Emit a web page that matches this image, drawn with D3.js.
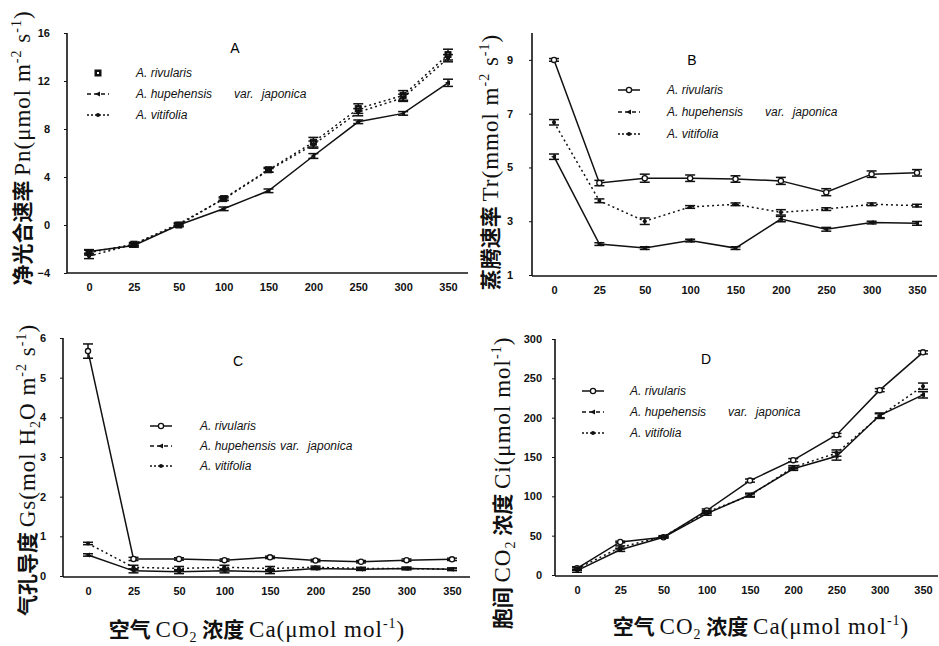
<!DOCTYPE html>
<html>
<head>
<meta charset="utf-8">
<script src="https://cdn.jsdelivr.net/npm/d3@7"></script>
<style>
  body { margin: 0; background: #fff; }
  svg { display: block; }
</style>
</head>
<body>
<div id="chart"></div>
<script>
// CO2 levels (x categories)
var caLevels = ["0", "25", "50", "100", "150", "200", "250", "300", "350"];

// A: net photosynthetic rate Pn
var pnRivularis    = [-2.3, -1.6, 0.0, 2.2, 4.6, 6.9, 9.7, 10.8, 14.2];
var pnRivularisErr = [0.2, 0.15, 0.15, 0.15, 0.2, 0.4, 0.4, 0.4, 0.45];
var pnHupehensis    = [-2.2, -1.7, 0.0, 1.35, 2.85, 5.75, 8.6, 9.3, 11.85];
var pnHupehensisErr = [0.15, 0.15, 0.1, 0.15, 0.15, 0.2, 0.15, 0.15, 0.3];
var pnVitifolia    = [-2.6, -1.6, 0.1, 2.15, 4.55, 6.7, 9.4, 10.6, 13.9];
var pnVitifoliaErr = [0.2, 0.1, 0.1, 0.1, 0.15, 0.3, 0.3, 0.3, 0.3];
var pnTicks = [-4, 0, 4, 8, 12, 16];

// B: transpiration rate Tr
var trRivularis    = [9.0, 4.42, 4.6, 4.6, 4.57, 4.5, 4.08, 4.75, 4.8];
var trRivularisErr = [0.05, 0.1, 0.15, 0.12, 0.12, 0.13, 0.13, 0.12, 0.12];
var trHupehensis    = [5.4, 2.15, 2.0, 2.28, 2.0, 3.08, 2.7, 2.95, 2.92];
var trHupehensisErr = [0.1, 0.05, 0.05, 0.05, 0.05, 0.1, 0.07, 0.05, 0.07];
var trVitifolia    = [6.68, 3.76, 3.0, 3.53, 3.63, 3.33, 3.45, 3.63, 3.58];
var trVitifoliaErr = [0.1, 0.07, 0.12, 0.05, 0.05, 0.1, 0.05, 0.05, 0.05];
var trTicks = [1, 3, 5, 7, 9];

// C: stomatal conductance Gs
var gsRivularis    = [5.67, 0.43, 0.43, 0.40, 0.47, 0.39, 0.36, 0.40, 0.42];
var gsRivularisErr = [0.18, 0.04, 0.03, 0.03, 0.03, 0.03, 0.03, 0.03, 0.03];
var gsHupehensis    = [0.53, 0.13, 0.11, 0.13, 0.11, 0.19, 0.17, 0.19, 0.17];
var gsHupehensisErr = [0.03, 0.05, 0.05, 0.05, 0.05, 0.03, 0.03, 0.03, 0.03];
var gsVitifolia    = [0.82, 0.22, 0.19, 0.22, 0.19, 0.22, 0.19, 0.19, 0.17];
var gsVitifoliaErr = [0.03, 0.05, 0.05, 0.05, 0.05, 0.03, 0.03, 0.03, 0.03];
var gsTicks = [0, 1, 2, 3, 4, 5, 6];

// D: intercellular CO2 Ci
var ciRivularis    = [8.5, 42, 48, 82, 120, 146, 178, 235, 283];
var ciRivularisErr = [2, 1, 1, 2, 2, 2, 2, 2, 2];
var ciHupehensis    = [5.5, 32, 48, 78, 102, 135, 151, 203, 229];
var ciHupehensisErr = [2, 2, 1, 2, 2, 2, 5, 3, 4];
var ciVitifolia    = [8, 35, 49, 80, 101, 137, 155, 202, 240];
var ciVitifoliaErr = [2, 2, 1, 2, 2, 2, 4, 3, 4];
var ciTicks = [0, 50, 100, 150, 200, 250, 300];

var zhFont = "'Noto Sans CJK SC', sans-serif";
var serifFont = "'Liberation Serif', 'DejaVu Serif', serif";
var sansFont = "'Liberation Sans', Arial, sans-serif";

var svg = d3.select("#chart")
  .append("svg")
    .attr("width", 939)
    .attr("height", 646);

// text made of parts: [string, kind, dy] kind = zh | la | sup | sub
function richText(g, parts, x, y, rotate) {
  var zhSize = 21, laSize = 23;
  var t = g.append("text")
    .attr("text-anchor", "middle")
    .attr("fill", "#111")
    .attr("transform", "translate(" + x + "," + y + ")" + (rotate ? " rotate(-90)" : ""));
  parts.forEach(function(p) {
    var s = t.append("tspan").text(p[0]);
    if (p[1] == "zh") {
      s.attr("font-family", zhFont).attr("font-weight", "bold").attr("font-size", zhSize);
    } else {
      s.attr("font-family", serifFont).attr("font-size", laSize).attr("letter-spacing", 1);
    }
    if (p[1] == "sup") s.attr("font-size", 14).attr("dy", -9);
    if (p[1] == "sub") s.attr("font-size", 14).attr("dy", 5);
    if (p[2]) s.attr("dy", p[2]);
  });
  return t;
}

function marker(g, kind, cx, cy) {
  if (kind == "square") {
    g.append("rect").attr("x", cx - 3).attr("y", cy - 3).attr("width", 6).attr("height", 6)
      .attr("fill", "#111").attr("stroke", "#111").attr("stroke-width", 1);
    g.append("rect").attr("x", cx - 1).attr("y", cy - 1).attr("width", 2).attr("height", 2).attr("fill", "#fff");
  } else if (kind == "circle") {
    g.append("circle").attr("cx", cx).attr("cy", cy).attr("r", 2.6)
      .attr("fill", "#fff").attr("stroke", "#111").attr("stroke-width", 1.3);
  } else if (kind == "dot") {
    g.append("circle").attr("cx", cx).attr("cy", cy).attr("r", 2).attr("fill", "#111");
  } else if (kind == "tri") {
    g.append("path").attr("d", "M" + (cx - 3) + "," + cy + "L" + (cx + 2) + "," + (cy - 2.5) + "L" + (cx + 2) + "," + (cy + 2.5) + "Z")
      .attr("fill", "#111");
  }
}

function drawPanel(p) {
  var x = d3.scalePoint().domain(caLevels).range([p.x0, p.x1]);
  var y = d3.scaleLinear().domain(p.yDomain).range(p.yRange);
  var g = svg.append("g");

  // axis lines
  g.append("line").attr("x1", p.axisX).attr("x2", p.axisX).attr("y1", p.axisTop).attr("y2", p.axisY)
    .attr("stroke", "#111").attr("stroke-width", 1.6);
  g.append("line").attr("x1", p.axisX).attr("x2", p.axisEnd).attr("y1", p.axisY).attr("y2", p.axisY)
    .attr("stroke", "#111").attr("stroke-width", 1.6);

  var ya = g.append("g")
    .attr("transform", "translate(" + p.axisX + ",0)")
    .call(d3.axisLeft(y).tickValues(p.ticks).tickFormat(d3.format("d")).tickSize(3).tickPadding(p.tickPad || 14));
  ya.select(".domain").remove();
  ya.selectAll("text").attr("font-family", sansFont).attr("font-weight", "bold").attr("font-size", 11).attr("fill", "#111");
  ya.selectAll("line").attr("stroke", "#111");

  var xa = g.append("g")
    .attr("transform", "translate(0," + p.axisY + ")")
    .call(d3.axisBottom(x).tickSize(0).tickPadding(10));
  xa.select(".domain").remove();
  xa.selectAll("text").attr("font-family", sansFont).attr("font-weight", "bold").attr("font-size", 11).attr("fill", "#111");

  // series
  p.series.forEach(function(s) {
    var line = d3.line()
      .x(function(d, i) { return x(caLevels[i]); })
      .y(function(d) { return y(d); });
    g.append("path")
      .datum(s.values)
      .attr("d", line)
      .attr("fill", "none")
      .attr("stroke", "#111")
      .attr("stroke-width", s.width || 1.5)
      .attr("stroke-dasharray", s.dash || null);

    s.values.forEach(function(v, i) {
      var cx = x(caLevels[i]);
      var e = s.err[i];
      var eb = g.append("g").attr("stroke", "#111").attr("stroke-width", 1.5);
      eb.append("line").attr("x1", cx).attr("x2", cx).attr("y1", y(v - e)).attr("y2", y(v + e));
      eb.append("line").attr("x1", cx - 5).attr("x2", cx + 5).attr("y1", y(v - e)).attr("y2", y(v - e));
      eb.append("line").attr("x1", cx - 5).attr("x2", cx + 5).attr("y1", y(v + e)).attr("y2", y(v + e));
      marker(g, s.marker, cx, y(v));
    });
  });

  // panel letter
  g.append("text").attr("x", p.letterX).attr("y", p.letterY)
    .attr("font-family", sansFont).attr("font-size", 14).attr("text-anchor", "middle").text(p.letter);

  // legend
  p.series.forEach(function(s, i) {
    var ly = p.legY + i * p.legGap;
    if (s.legLine) {
      g.append("line").attr("x1", p.legX).attr("x2", p.legX + 22).attr("y1", ly).attr("y2", ly)
        .attr("stroke", "#111").attr("stroke-width", 1.5).attr("stroke-dasharray", s.legLine == "solid" ? null : s.legLine);
    }
    marker(g, s.marker, p.legX + 11, ly);
    var t = g.append("text").attr("x", p.legTextX).attr("y", ly + 4)
      .attr("font-family", sansFont).attr("font-style", "italic").attr("font-size", 12).attr("fill", "#111");
    s.label.forEach(function(part, k) {
      t.append("tspan").attr("dx", k == 0 ? 0 : part[1]).text(part[0]);
    });
  });
}

var labRiv = [["A. rivularis", 0]];
var labHupWide = [["A. hupehensis", 0], ["var.", 22], ["japonica", 8]];
var labHupNarrow = [["A. hupehensis", 0], ["var.", 4], ["japonica", 8]];
var labVit = [["A. vitifolia", 0]];

// Panel A
drawPanel({
  x0: 89, x1: 448, axisX: 67, axisEnd: 468, axisTop: 33, axisY: 273,
  yDomain: [-4, 16], yRange: [273, 33], ticks: pnTicks, tickPad: 14,
  letter: "A", letterX: 235, letterY: 53,
  legX: 87, legTextX: 136, legY: 73, legGap: 21,
  series: [
    { values: pnRivularis, err: pnRivularisErr, marker: "square", dash: "2,3", label: labRiv, legLine: null },
    { values: pnHupehensis, err: pnHupehensisErr, marker: "tri", label: labHupWide, legLine: "4,3" },
    { values: pnVitifolia, err: pnVitifoliaErr, marker: "dot", dash: "2,3", label: labVit, legLine: "2,2" }
  ]
});

// Panel B
drawPanel({
  x0: 554, x1: 917, axisX: 532, axisEnd: 937, axisTop: 33, axisY: 276,
  yDomain: [1, 10], yRange: [275, 33], ticks: trTicks, tickPad: 16,
  letter: "B", letterX: 692, letterY: 65,
  legX: 618, legTextX: 667, legY: 90, legGap: 22,
  series: [
    { values: trRivularis, err: trRivularisErr, marker: "circle", label: labRiv, legLine: "solid" },
    { values: trHupehensis, err: trHupehensisErr, marker: "tri", label: labHupWide, legLine: "4,3" },
    { values: trVitifolia, err: trVitifoliaErr, marker: "dot", dash: "2,3", label: labVit, legLine: "2,2" }
  ]
});

// Panel C
drawPanel({
  x0: 88, x1: 452, axisX: 63, axisEnd: 470, axisTop: 338, axisY: 577,
  yDomain: [0, 6], yRange: [576, 338], ticks: gsTicks, tickPad: 14,
  letter: "C", letterX: 238, letterY: 366,
  legX: 150, legTextX: 200, legY: 426, legGap: 20,
  series: [
    { values: gsRivularis, err: gsRivularisErr, marker: "circle", label: labRiv, legLine: "solid" },
    { values: gsHupehensis, err: gsHupehensisErr, marker: "tri", label: labHupNarrow, legLine: "4,3" },
    { values: gsVitifolia, err: gsVitifoliaErr, marker: "dot", dash: "2,3", label: labVit, legLine: "2,2" }
  ]
});

// Panel D
drawPanel({
  x0: 577, x1: 923, axisX: 555, axisEnd: 938, axisTop: 339, axisY: 576,
  yDomain: [0, 300], yRange: [575, 339], ticks: ciTicks, tickPad: 10,
  letter: "D", letterX: 706, letterY: 364,
  legX: 582, legTextX: 630, legY: 391, legGap: 21,
  series: [
    { values: ciRivularis, err: ciRivularisErr, marker: "circle", label: labRiv, legLine: "solid" },
    { values: ciHupehensis, err: ciHupehensisErr, marker: "tri", label: labHupWide, legLine: "4,3" },
    { values: ciVitifolia, err: ciVitifoliaErr, marker: "dot", dash: "2,3", label: labVit, legLine: "2,2" }
  ]
});

// axis titles
richText(svg, [["净光合速率 ", "zh"], ["Pn(μmol m", "la"], ["-2", "sup"], [" s", "la", 9], ["-1", "sup"], [")", "la", 9]], 30, 148, true);
richText(svg, [["蒸腾速率 ", "zh"], ["Tr(mmol m", "la"], ["-2", "sup"], [" s", "la", 9], ["-1", "sup"], [")", "la", 9]], 498, 162, true);
richText(svg, [["气孔导度 ", "zh"], ["Gs(mol H", "la"], ["2", "sub"], ["O m", "la", -5], ["-2", "sup"], [" s", "la", 9], ["-1", "sup"], [")", "la", 9]], 35, 470, true);
richText(svg, [["胞间 ", "zh"], ["CO", "la"], ["2", "sub"], [" 浓度 ", "zh", -5], ["Ci(μmol mol", "la"], ["-1", "sup"], [")", "la", 9]], 510, 483, true);
richText(svg, [["空气 ", "zh"], ["CO", "la"], ["2", "sub"], [" 浓度 ", "zh", -5], ["Ca(μmol mol", "la"], ["-1", "sup"], [")", "la", 9]], 257, 637, false);
richText(svg, [["空气 ", "zh"], ["CO", "la"], ["2", "sub"], [" 浓度 ", "zh", -5], ["Ca(μmol mol", "la"], ["-1", "sup"], [")", "la", 9]], 761, 634, false);
</script>
</body>
</html>
